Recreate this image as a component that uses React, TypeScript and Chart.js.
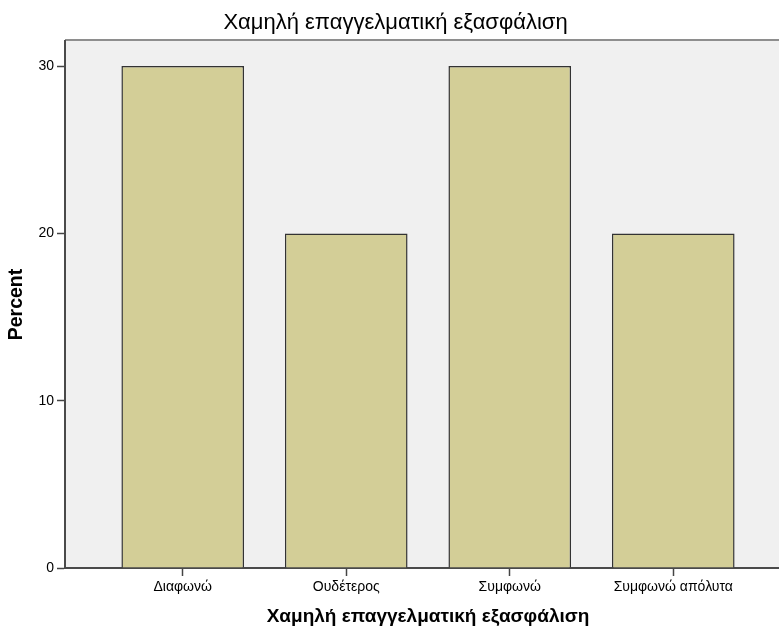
import React, { useEffect, useRef } from "react";
import { Chart, registerables } from "chart.js";

Chart.register(...registerables);

const chartTitle = "Χαμηλή επαγγελματική εξασφάλιση";
const xAxisTitle = "Χαμηλή επαγγελματική εξασφάλιση";
const yAxisTitle = "Percent";
const categories = ["Διαφωνώ", "Ουδέτερος", "Συμφωνώ", "Συμφωνώ απόλυτα"];
const percents = [30, 20, 30, 20];
const yTicks = [0, 10, 20, 30];
const yMax = 31.5;
const xPad = 0.72;

const FONT = "'Liberation Sans', Arial, sans-serif";

const plotBg = {
  id: "plotBg",
  beforeDraw(chart: any) {
    const { ctx, chartArea } = chart;
    const { left, top, right, bottom } = chartArea;
    ctx.save();
    ctx.fillStyle = "#f0f0f0";
    ctx.fillRect(left, top, right - left, bottom - top);
    ctx.fillStyle = "#8e8e8e";
    ctx.fillRect(left, top - 2, right - left, 2);
    ctx.restore();
  },
};

export default function App() {
  const ref = useRef<HTMLCanvasElement | null>(null);
  useEffect(() => {
    if (!ref.current) return;
    const chart = new Chart(ref.current, {
      type: "bar",
      data: {
        datasets: [
          {
            label: yAxisTitle,
            data: categories.map((c, i) => ({ x: i, y: percents[i] })),
            backgroundColor: "#d3ce97",
            borderColor: "#333333",
            borderWidth: 1.5,
            categoryPercentage: 1,
            barPercentage: 0.75,
          },
        ],
      },
      plugins: [plotBg],
      options: {
        animation: false,
        responsive: false,
        layout: { padding: 0 },
        plugins: {
          legend: { display: false },
          tooltip: { enabled: false },
          title: {
            display: true,
            text: chartTitle,
            color: "#000",
            font: { family: FONT, size: 22, weight: "normal", lineHeight: 1.2 },
            padding: { top: 10, bottom: 4.6 },
          },
        },
        scales: {
          x: {
            type: "linear",
            offset: false,
            min: -xPad,
            max: categories.length - 1 + xPad,
            afterBuildTicks: (axis: any) => {
              axis.ticks = categories.map((_, i) => ({ value: i }));
            },
            afterFit: (axis: any) => {
              axis.height = 60;
            },
            ticks: {
              autoSkip: false,
              maxRotation: 0,
              padding: 3,
              color: "#000",
              font: { family: FONT, size: 14 },
              callback: (v: any) => categories[v as number] ?? "",
            },
            grid: {
              offset: false,
              drawOnChartArea: false,
              drawTicks: true,
              tickLength: 8,
              tickColor: "#444",
              tickWidth: 1.5,
            },
            border: { display: true, color: "#4a4a4a", width: 2 },
            title: {
              display: true,
              text: xAxisTitle,
              color: "#000",
              font: { family: FONT, size: 19, weight: "bold", lineHeight: 1.2 },
              padding: { top: 0, bottom: 0 },
            },
          },
          y: {
            type: "linear",
            min: 0,
            max: yMax,
            afterBuildTicks: (axis: any) => {
              axis.ticks = yTicks.map((v) => ({ value: v }));
            },
            afterFit: (axis: any) => {
              axis.width = 65;
            },
            ticks: {
              padding: 3,
              color: "#000",
              font: { family: FONT, size: 14 },
            },
            grid: {
              drawOnChartArea: false,
              drawTicks: true,
              tickLength: 8,
              tickColor: "#444",
              tickWidth: 1.5,
            },
            border: { display: true, color: "#4a4a4a", width: 2 },
            title: {
              display: true,
              text: yAxisTitle,
              color: "#000",
              font: { family: FONT, size: 19.5, weight: "bold", lineHeight: 1.2 },
              padding: { top: 5, bottom: 0 },
            },
          },
        },
      },
    } as any);
    return () => chart.destroy();
  }, []);
  return (
    <div
      style={{
        position: "fixed",
        left: 0,
        top: 0,
        width: 779,
        height: 628,
        overflow: "hidden",
        background: "#fff",
      }}
    >
      <canvas ref={ref} width={791} height={628} style={{ display: "block" }} />
    </div>
  );
}
